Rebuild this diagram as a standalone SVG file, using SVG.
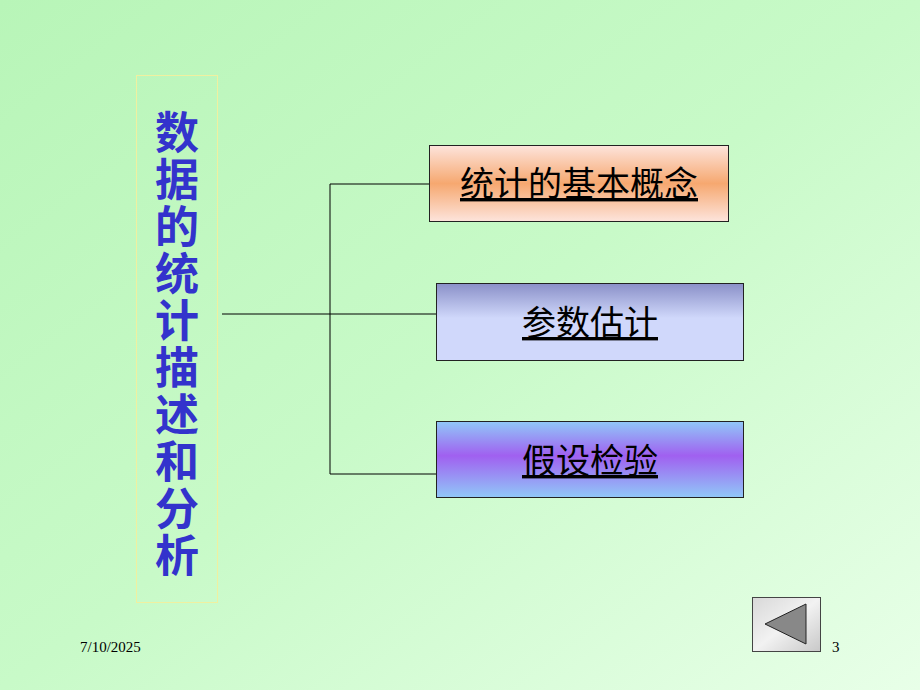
<svg xmlns="http://www.w3.org/2000/svg" width="920" height="690" viewBox="0 0 920 690">
<defs>
<linearGradient id="bg" x1="0" y1="0" x2="1" y2="1"><stop offset="0" stop-color="#b8f5b8"/><stop offset="0.5" stop-color="#c8fac8"/><stop offset="1" stop-color="#e8ffe8"/></linearGradient>
<linearGradient id="g1" x1="0" y1="0" x2="0" y2="1"><stop offset="0" stop-color="#fde4dc"/><stop offset="0.5" stop-color="#f6a870"/><stop offset="1" stop-color="#fde4dc"/></linearGradient>
<linearGradient id="g2" x1="0" y1="0" x2="0" y2="1"><stop offset="0" stop-color="#8a90c8"/><stop offset="0.45" stop-color="#d0d8fb"/><stop offset="1" stop-color="#d0d8fb"/></linearGradient>
<linearGradient id="g3" x1="0" y1="0" x2="0" y2="1"><stop offset="0" stop-color="#90c8f8"/><stop offset="0.45" stop-color="#a060f0"/><stop offset="1" stop-color="#90c8f8"/></linearGradient>
<linearGradient id="btn" x1="0" y1="0" x2="1" y2="1"><stop offset="0" stop-color="#d8d8d8"/><stop offset="0.5" stop-color="#f2f2f2"/><stop offset="1" stop-color="#c8c8c8"/></linearGradient>
</defs>
<style>
.box{stroke:#222;stroke-width:1}
.lbl{font-family:"Noto Sans CJK SC",sans-serif;font-size:34px;fill:#000;text-decoration:underline;text-anchor:middle}
.v{font-family:"Noto Sans CJK SC",sans-serif;font-size:44px;font-weight:bold;fill:#3333cc;writing-mode:vertical-rl;letter-spacing:3px}
.ft{font-family:"Liberation Serif",serif;font-size:15px;fill:#000}
</style>
<rect width="920" height="690" fill="url(#bg)"/>
<g id="connectors" stroke="#000" stroke-width="1" fill="none">
<line x1="222" y1="314" x2="436" y2="314"/>
<polyline points="429,184 330,184 330,474 436,474"/>
</g>
<g id="title">
<rect x="136.5" y="75.5" width="81" height="527" fill="none" stroke="#f0f0a0"/>
<text class="v" x="177" y="110">数据的统计描述和分析</text>
</g>
<g id="n1"><rect class="box" x="429.5" y="145.5" width="299" height="76" fill="url(#g1)"/><text class="lbl" x="579" y="196">统计的基本概念</text></g>
<g id="n2"><rect class="box" x="436.5" y="283.5" width="307" height="77" fill="url(#g2)"/><text class="lbl" x="590" y="335">参数估计</text></g>
<g id="n3"><rect class="box" x="436.5" y="421.5" width="307" height="76" fill="url(#g3)"/><text class="lbl" x="590" y="473">假设检验</text></g>
<g id="button"><rect x="752.5" y="597.5" width="68" height="54" fill="url(#btn)" stroke="#444"/><polygon points="765,624 806,604 806,644" fill="#888" stroke="#222"/></g>
<text class="ft" x="80" y="652">7/10/2025</text>
<text class="ft" x="832" y="652">3</text>
</svg>
